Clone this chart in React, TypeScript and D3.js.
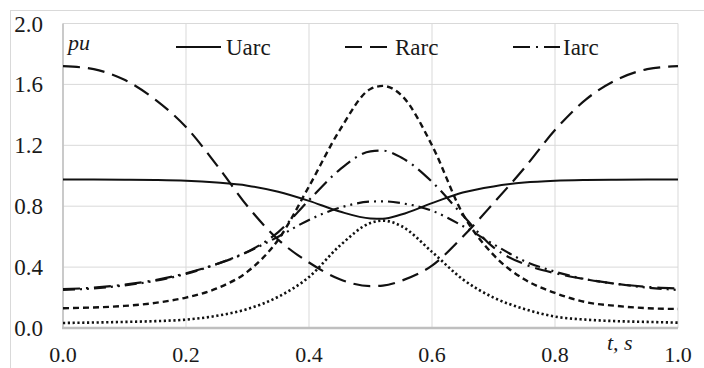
import React from 'react';
import * as d3 from 'd3';

// time axis (s) shared by all series
const tValues = [0, 0.05, 0.1, 0.15, 0.2, 0.25, 0.3, 0.35, 0.4, 0.45, 0.5, 0.52, 0.55, 0.6, 0.65, 0.7, 0.75, 0.8, 0.85, 0.9, 0.95, 1];

const uarc = [0.975, 0.975, 0.974, 0.972, 0.967, 0.955, 0.935, 0.895, 0.835, 0.765, 0.72, 0.718, 0.745, 0.82, 0.89, 0.93, 0.955, 0.967, 0.972, 0.974, 0.975, 0.975];
const rarc = [1.72, 1.7, 1.63, 1.5, 1.32, 1.07, 0.8, 0.58, 0.43, 0.32, 0.275, 0.278, 0.31, 0.41, 0.6, 0.82, 1.05, 1.3, 1.5, 1.63, 1.7, 1.72];
const iarc = [0.255, 0.265, 0.285, 0.315, 0.36, 0.42, 0.5, 0.63, 0.84, 1.04, 1.16, 1.165, 1.12, 0.96, 0.74, 0.53, 0.42, 0.36, 0.32, 0.29, 0.27, 0.26];
const shortDash = [0.13, 0.135, 0.145, 0.165, 0.2, 0.26, 0.37, 0.58, 0.93, 1.3, 1.57, 1.59, 1.53, 1.2, 0.75, 0.48, 0.32, 0.23, 0.17, 0.145, 0.13, 0.125];
const dashDotDot = [0.25, 0.26, 0.28, 0.31, 0.355, 0.42, 0.5, 0.6, 0.71, 0.79, 0.83, 0.832, 0.82, 0.77, 0.67, 0.55, 0.44, 0.37, 0.32, 0.29, 0.265, 0.25];
const dotted = [0.033, 0.036, 0.04, 0.045, 0.055, 0.08, 0.125, 0.205, 0.335, 0.54, 0.69, 0.705, 0.67, 0.5, 0.32, 0.2, 0.125, 0.075, 0.055, 0.045, 0.04, 0.035];

const xTicks = [0, 0.2, 0.4, 0.6, 0.8, 1.0];
const yTicks = [0, 0.4, 0.8, 1.2, 1.6, 2.0];

const series = [
  { name: 'Uarc', values: uarc, dash: '', width: 2, legend: true },
  { name: 'Rarc', values: rarc, dash: '17,8', width: 2.2, legend: true },
  { name: 'Iarc', values: iarc, dash: '17,6,2,6', width: 2.2, legend: true },
  { name: 'short', values: shortDash, dash: '6,4', width: 2.4, legend: false },
  { name: 'dashdotdot', values: dashDotDot, dash: '12,5,2,5,2,5', width: 2.2, legend: false },
  { name: 'dotted', values: dotted, dash: '2.2,2.6', width: 2.6, legend: false },
];

const legendItems = [
  { name: 'Uarc', x1: 176, x2: 221, textX: 226 },
  { name: 'Rarc', x1: 345, x2: 390, textX: 395 },
  { name: 'Iarc', x1: 513, x2: 560, textX: 563 },
];

const W = 704;
const H = 368;
const font = "'Liberation Serif', serif";
const txt = { fontFamily: font };

export default function App() {
  const x = d3.scaleLinear().domain([0, 1]).range([63, 678]);
  const y = d3.scaleLinear().domain([0, 2]).range([328, 23.5]);

  const line = (vals: number[]) =>
    d3.line<number>()
      .x((_, i) => x(tValues[i]))
      .y(d => y(d))
      .curve(d3.curveMonotoneX)(vals) || '';

  return (
    <svg width={W} height={H} style={{ position: 'absolute', left: 0, top: 0, background: '#fff', fontFamily: font }}>
      {/* outer chart frame */}
      <rect x={10.5} y={10.5} width={W} height={H} fill="none" stroke="#d9d9d9" strokeWidth={1} />

      {/* grid */}
      {yTicks.map(t => (
        <line key={'gy' + t} x1={x(0)} x2={x(1)} y1={y(t)} y2={y(t)} stroke="#d9d9d9" strokeWidth={1} />
      ))}
      {xTicks.map(t => (
        <line key={'gx' + t} x1={x(t)} x2={x(t)} y1={y(0)} y2={y(2)} stroke="#d9d9d9" strokeWidth={1} />
      ))}

      {/* axis lines */}
      <line x1={x(0)} x2={x(0)} y1={y(0)} y2={y(2)} stroke="#bfbfbf" strokeWidth={1.5} />
      <line x1={x(0) - 1} x2={x(1)} y1={y(0)} y2={y(0)} stroke="#bfbfbf" strokeWidth={2.5} />

      {/* tick labels */}
      {yTicks.map(t => (
        <text key={'ly' + t} x={43} y={y(t)} dy="0.35em" textAnchor="end" fontSize={23} fill="#1a1a1a" style={txt}>
          {t.toFixed(1)}
        </text>
      ))}
      {xTicks.map(t => (
        <text key={'lx' + t} x={x(t)} y={362} textAnchor="middle" fontSize={22} fill="#1a1a1a" style={txt}>
          {t.toFixed(1)}
        </text>
      ))}

      {/* axis titles */}
      <text x={68} y={50} fontSize={22} fontStyle="italic" fill="#1a1a1a" style={txt}>pu</text>
      <text x={607} y={350} fontSize={22} fontStyle="italic" fill="#1a1a1a" style={txt}>t, s</text>

      {/* series */}
      {series.map(s => (
        <path key={s.name} d={line(s.values)} fill="none" stroke="#111" strokeWidth={s.width}
          strokeDasharray={s.dash || undefined} />
      ))}

      {/* legend */}
      {legendItems.map(item => {
        const s = series.find(d => d.name === item.name)!;
        return (
          <g key={item.name}>
            <line x1={item.x1} x2={item.x2} y1={47} y2={47} stroke="#111" strokeWidth={s.width}
              strokeDasharray={s.dash || undefined} />
            <text x={item.textX} y={55} fontSize={23} fill="#1a1a1a" style={txt}>{item.name}</text>
          </g>
        );
      })}
    </svg>
  );
}
